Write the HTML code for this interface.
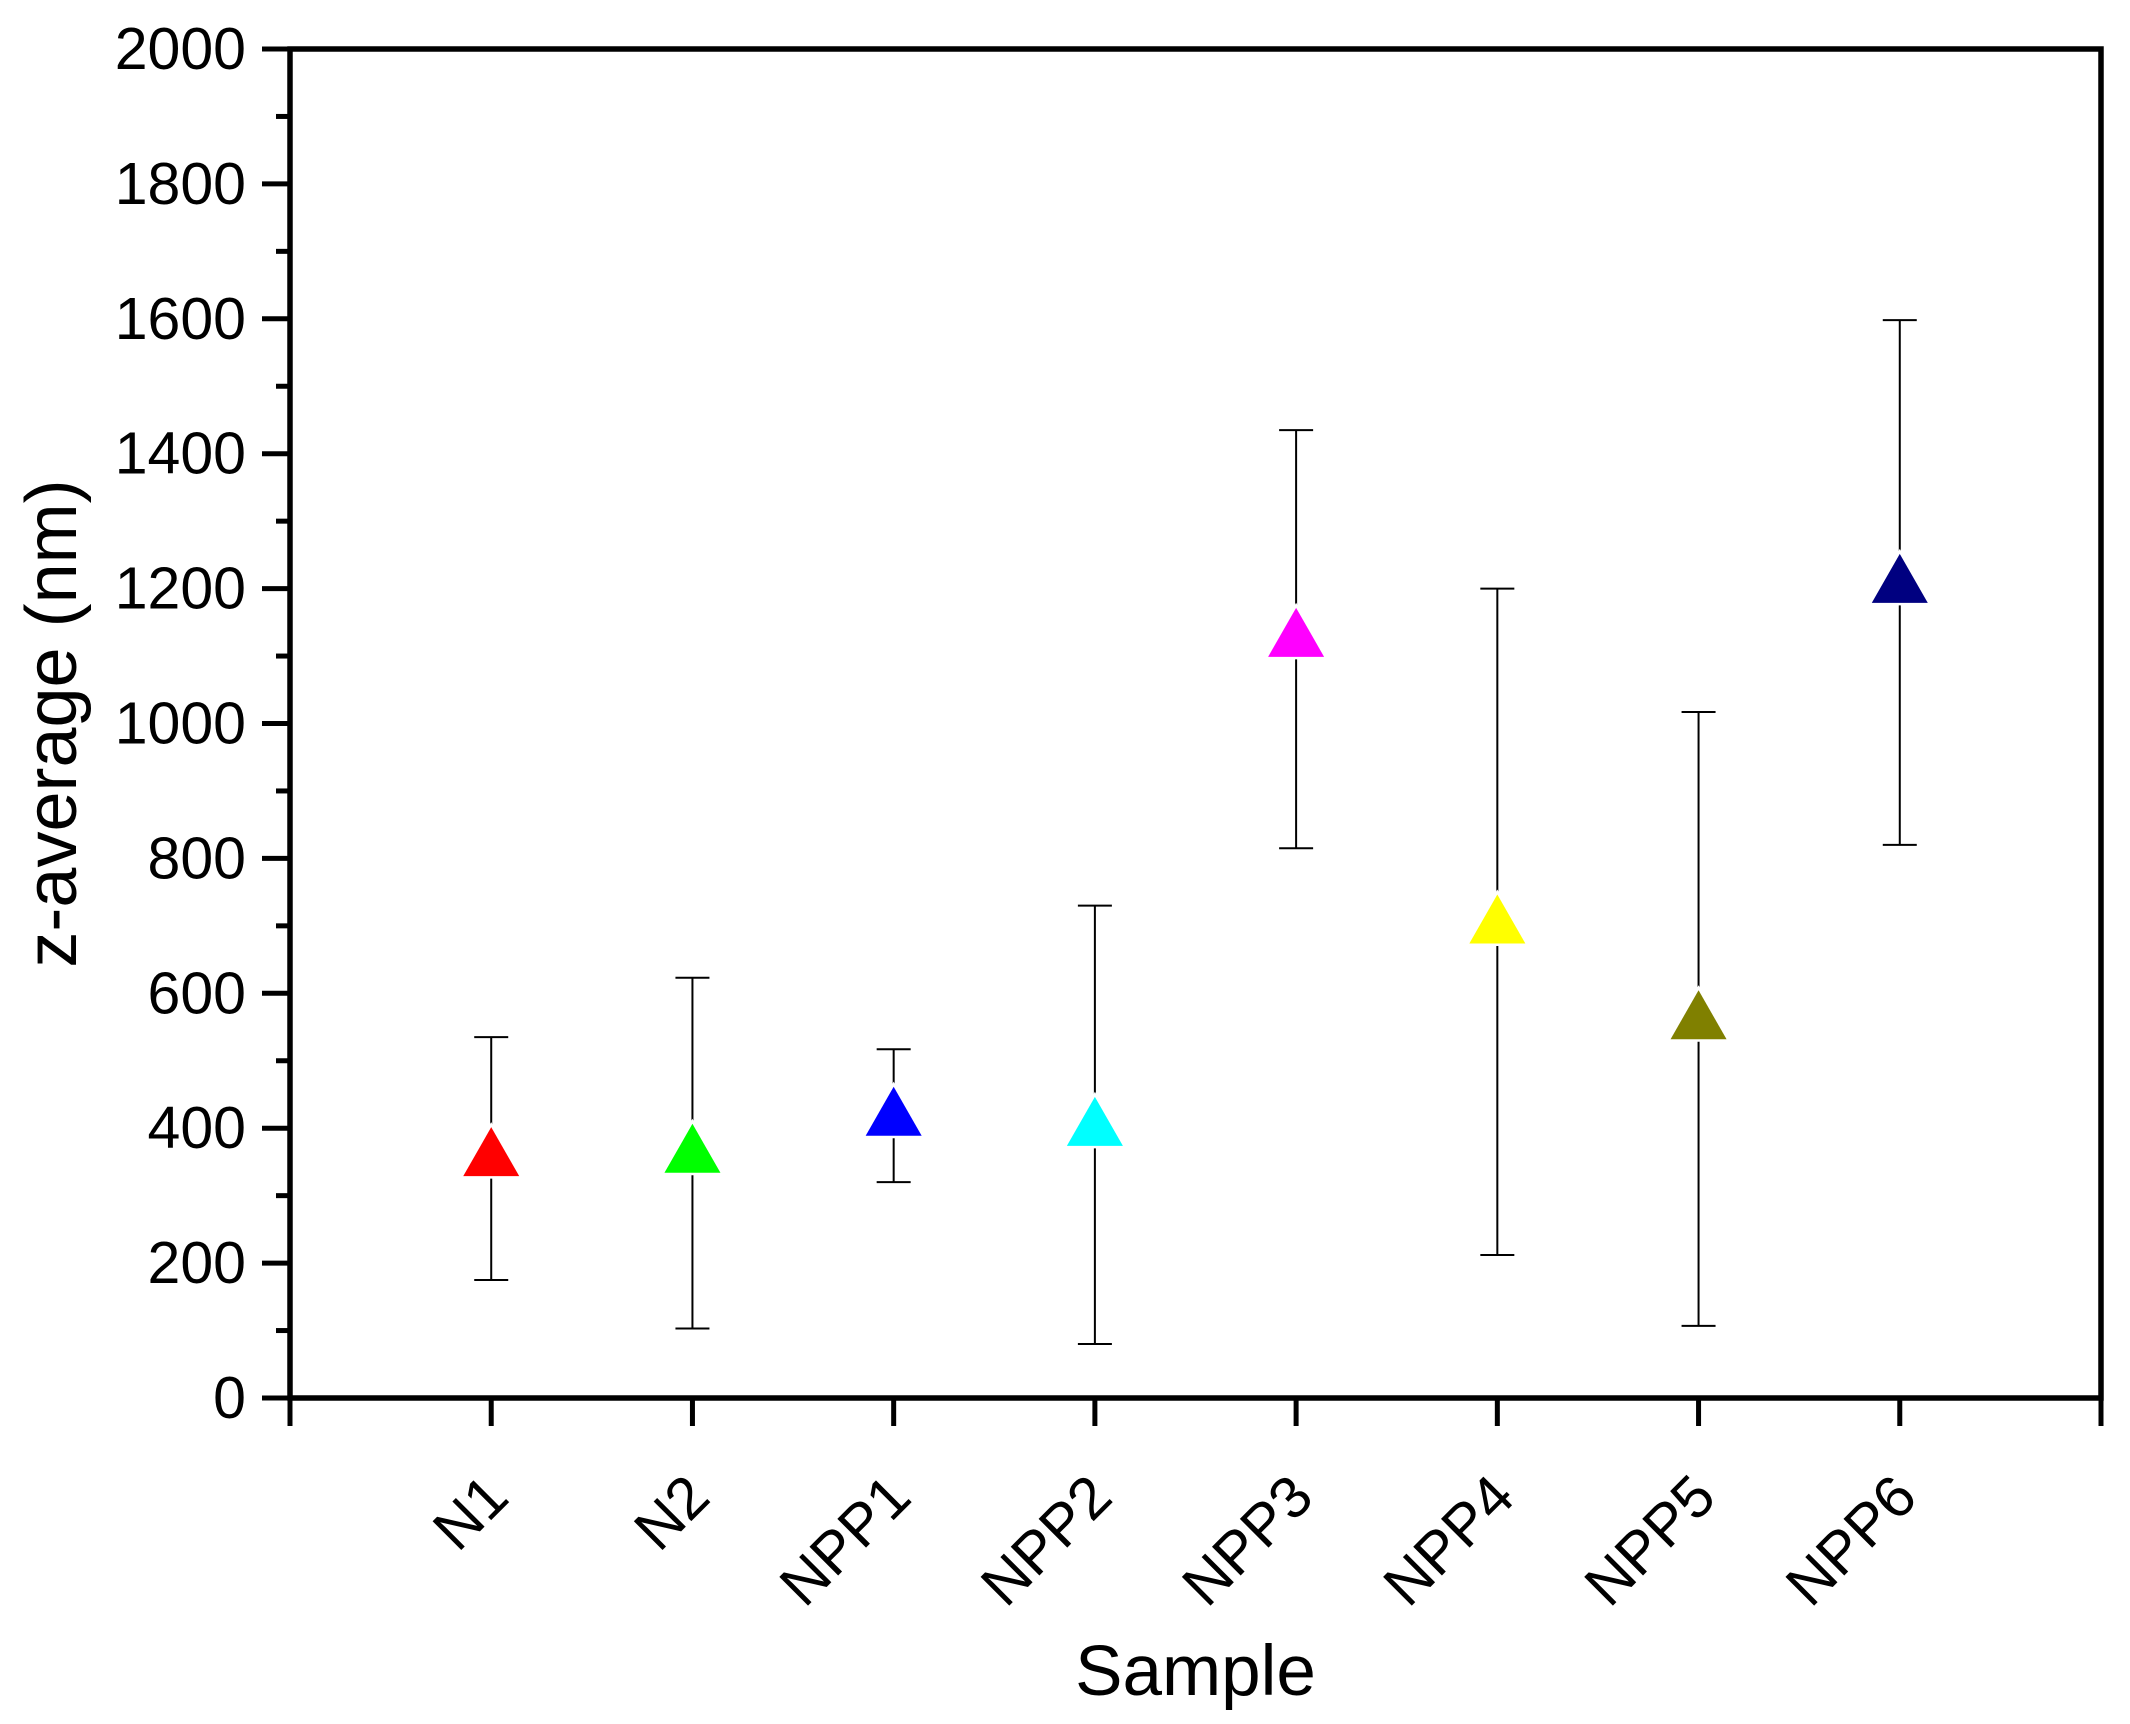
<!DOCTYPE html>
<html><head><meta charset="utf-8"><style>body{margin:0;background:#fff}svg{display:block}text{font-family:"Liberation Sans",Arial,sans-serif;fill:#000}</style></head>
<body>
<svg id="c" width="2130" height="1724" viewBox="0 0 2130 1724"></svg>
<script>
const categories=["N1","N2","NPP1","NPP2","NPP3","NPP4","NPP5","NPP6"];
const means=[360,365,420,405,1130,705,563,1210];
const errLow=[175,103,320,80,815,212,107,820];
const errHigh=[535,623,517,730,1435,1200,1017,1598];
const colors=["#ff0000","#00ff00","#0000ff","#00ffff","#ff00ff","#ffff00","#808000","#000080"];
const yTicks=[0,200,400,600,800,1000,1200,1400,1600,1800,2000];
const L=290,R=2101,T=49,B=1398;
const xs=i=>L+(i+1)*(R-L)/9;
const ys=v=>B-v*(B-T)/2000;
const svg=document.getElementById('c');
const NS="http://www.w3.org/2000/svg";
function mk(t,a,p){const e=document.createElementNS(NS,t);for(const k in a)e.setAttribute(k,a[k]);(p||svg).appendChild(e);return e;}
for(let v=100;v<2000;v+=200){const t=mk('line',{x1:L-14,x2:L,y1:ys(v),y2:ys(v),stroke:'#000','stroke-width':5});

}
yTicks.forEach(v=>{const t=mk('line',{x1:L-28,x2:L,y1:ys(v),y2:ys(v),stroke:'#000','stroke-width':5});


const l=mk('text',{x:L-44,y:ys(v)+20,'text-anchor':'end','font-size':59});l.textContent=v;

});
for(let i=-1;i<=8;i++){const t=mk('line',{x1:xs(i),x2:xs(i),y1:B,y2:B+28,stroke:'#000','stroke-width':5});

}
const frame=mk('rect',{x:L,y:T,width:R-L,height:B-T,fill:'none',stroke:'#000','stroke-width':5.5});


categories.forEach((c,i)=>{const x=xs(i);
const g=mk('g',{});


mk('line',{x1:x,x2:x,y1:ys(errLow[i]),y2:ys(errHigh[i]),stroke:'#000','stroke-width':2},g);
mk('line',{x1:x-17,x2:x+17,y1:ys(errLow[i]),y2:ys(errLow[i]),stroke:'#000','stroke-width':2},g);
mk('line',{x1:x-17,x2:x+17,y1:ys(errHigh[i]),y2:ys(errHigh[i]),stroke:'#000','stroke-width':2},g);
const y=ys(means[i]);
mk('polygon',{points:`${x-28},${y+21} ${x+28},${y+21} ${x},${y-28}`,fill:colors[i],stroke:'#fff','stroke-width':5,'paint-order':'stroke'},g);
const l=mk('text',{x:x+20,y:B+102,'text-anchor':'end','font-size':59,transform:`rotate(-45 ${x+20} ${B+102})`});l.textContent=c;

});
const xt=mk('text',{x:(L+R)/2,y:1695,'text-anchor':'middle','font-size':71});xt.textContent='Sample';


const yt=mk('text',{x:76,y:(T+B)/2,'text-anchor':'middle','font-size':72,transform:`rotate(-90 76 ${(T+B)/2})`});yt.textContent='z-average (nm)';


</script>
</body></html>
